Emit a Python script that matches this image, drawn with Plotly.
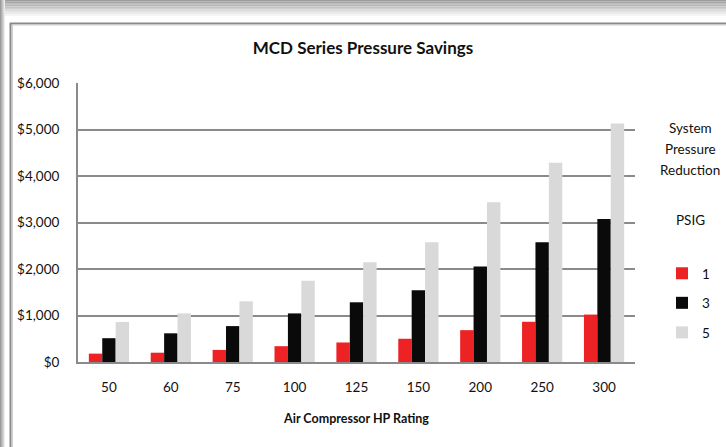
import plotly.graph_objects as go

categories = ["50", "60", "75", "100", "125", "150", "200", "250", "300"]
psig_1 = [180, 200, 260, 340, 420, 500, 685, 865, 1020]
psig_3 = [512, 617, 772, 1045, 1284, 1545, 2052, 2575, 3075]
psig_5 = [860, 1045, 1305, 1745, 2145, 2575, 3433, 4283, 5130]
series_names = ["1", "3", "5"]
y_ticks = [0, 1000, 2000, 3000, 4000, 5000, 6000]
y_tick_text = ["$0", "$1,000", "$2,000", "$3,000", "$4,000", "$5,000", "$6,000"]
legend_heading = ["System", "Pressure", "Reduction", "PSIG"]

W, H = 726, 447
L, R, T, B = 78, 635, 83, 362

def px(x):
    return (x - L) / (R - L)

def py(y):
    return (B - y) / (B - T)

colors = ["#ED2224", "#0A0A0A", "#D9D9D9"]
FONT = "Lato, 'Open Sans', sans-serif"

fig = go.Figure()
for i, (name, vals) in enumerate(zip(series_names, [psig_1, psig_3, psig_5])):
    fig.add_trace(go.Bar(x=categories, y=vals, name=name, marker_color=colors[i],
                         marker_line_width=0, legendgroup=name))

shapes = []
grad = ["#9c9c9c", "#a6a6a6", "#b0b0b0", "#bababa", "#c4c4c4", "#cecece", "#d8d8d8", "#e2e2e2", "#ececec", "#f5f5f5"]
for k, c in enumerate(grad):
    shapes.append(dict(type="rect", xref="paper", yref="paper", x0=px(0), x1=px(W),
                       y0=py(k * 1.6), y1=py((k + 1) * 1.6), fillcolor=c, line_width=0, layer="below"))
lgrad = ["#9c9c9c", "#b0b0b0", "#c4c4c4", "#d8d8d8", "#ececec"]
for k, c in enumerate(lgrad):
    shapes.append(dict(type="rect", xref="paper", yref="paper", x0=px(k), x1=px(k + 1),
                       y0=py(0), y1=py(H), fillcolor=c, line_width=0, layer="below"))
shapes.append(dict(type="line", xref="paper", yref="paper", x0=px(10), x1=px(W + 5),
                   y0=py(23.5), y1=py(23.5), line=dict(color="#8a8a8a", width=2), layer="below"))
shapes.append(dict(type="line", xref="paper", yref="paper", x0=px(10.5), x1=px(10.5),
                   y0=py(23), y1=py(H + 5), line=dict(color="#8a8a8a", width=2), layer="below"))
shapes.append(dict(type="line", xref="paper", yref="paper", x0=px(12), x1=px(W + 5),
                   y0=py(25), y1=py(25), line=dict(color="#d0d0d0", width=1), layer="below"))
shapes.append(dict(type="line", xref="paper", yref="paper", x0=px(12.5), x1=px(12.5),
                   y0=py(25), y1=py(H + 5), line=dict(color="#d0d0d0", width=1), layer="below"))

heading_y = [128, 149, 170, 220]
annotations = [
    dict(text=t, xref="paper", yref="paper", x=px(690), y=py(yy),
         xanchor="center", yanchor="middle", showarrow=False,
         font=dict(family=FONT, size=13.5, color="#111"))
    for t, yy in zip(legend_heading, heading_y)
]

fig.update_layout(
    width=W, height=H,
    margin=dict(l=L, r=W - R, t=T, b=H - B, autoexpand=False),
    paper_bgcolor="white", plot_bgcolor="white",
    barmode="group", bargap=0.35, bargroupgap=0,
    title=dict(text="<b>MCD Series Pressure Savings</b>", x=0.5, xref="container", y=1 - 48 / H,
               yref="container", xanchor="center", yanchor="middle",
               font=dict(family=FONT, size=17, color="#111")),
    font=dict(family=FONT, size=13.5, color="#111"),
    xaxis=dict(title=dict(text="<b>Air Compressor HP Rating</b>", standoff=20,
                          font=dict(family=FONT, size=12.5, color="#111")),
               showline=True, linecolor="#8a8a8a", linewidth=2, ticks="", showgrid=False,
               ticklabelstandoff=12, tickfont=dict(size=13.5), automargin=False),
    yaxis=dict(range=[0, 6000], tickmode="array", tickvals=y_ticks, ticktext=y_tick_text,
               showline=True, linecolor="#8a8a8a", linewidth=2, ticks="",
               showgrid=True, gridcolor="#8a8a8a", gridwidth=2, zeroline=False,
               ticklabelstandoff=14, tickfont=dict(size=13.5), automargin=False),
    legend=dict(xref="container", yref="container", x=662 / W, y=1 - 258 / H,
                xanchor="left", yanchor="top", bgcolor="rgba(0,0,0,0)",
                tracegroupgap=9, itemwidth=30, font=dict(size=13.5), traceorder="grouped"),
    shapes=shapes, annotations=annotations,
)

fig.write_html("out.html", config={"displayModeBar": False},
               post_script="document.body.style.margin='0';")
